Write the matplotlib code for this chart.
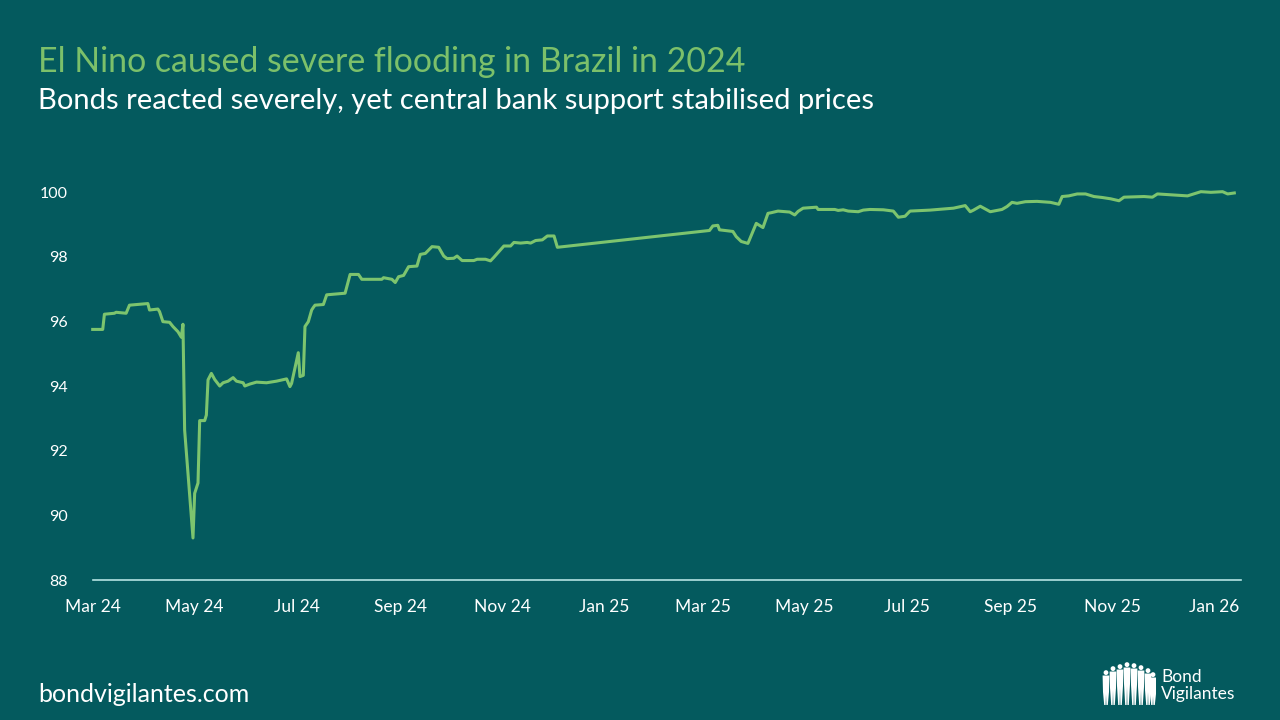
import numpy as np
import pandas as pd
import matplotlib
matplotlib.use("Agg")
import matplotlib.pyplot as plt
import matplotlib.dates as mdates
from matplotlib.patches import Circle, Polygon

# ── data ──
dates = [
    "2024-03-01", "2024-03-07", "2024-03-08", "2024-03-14", "2024-03-15", "2024-03-21",
    "2024-03-23", "2024-04-03", "2024-04-04", "2024-04-09", "2024-04-10", "2024-04-12",
    "2024-04-16", "2024-04-18", "2024-04-21", "2024-04-23", "2024-04-24", "2024-04-25",
    "2024-04-30", "2024-05-01", "2024-05-03", "2024-05-04", "2024-05-07", "2024-05-08",
    "2024-05-09", "2024-05-11", "2024-05-13", "2024-05-16", "2024-05-18", "2024-05-21",
    "2024-05-24", "2024-05-26", "2024-05-30", "2024-05-31", "2024-06-03", "2024-06-07",
    "2024-06-13", "2024-06-19", "2024-06-25", "2024-06-27", "2024-06-28", "2024-07-02",
    "2024-07-03", "2024-07-05", "2024-07-06", "2024-07-08", "2024-07-10", "2024-07-11",
    "2024-07-12", "2024-07-17", "2024-07-19", "2024-07-30", "2024-08-02", "2024-08-07",
    "2024-08-09", "2024-08-21", "2024-08-22", "2024-08-27", "2024-08-29", "2024-08-31",
    "2024-09-03", "2024-09-06", "2024-09-11", "2024-09-13", "2024-09-16", "2024-09-20",
    "2024-09-24", "2024-09-27", "2024-09-29", "2024-10-03", "2024-10-05", "2024-10-08",
    "2024-10-15", "2024-10-17", "2024-10-22", "2024-10-25", "2024-10-27", "2024-10-31",
    "2024-11-02", "2024-11-06", "2024-11-08", "2024-11-12", "2024-11-16", "2024-11-18",
    "2024-11-21", "2024-11-25", "2024-11-28", "2024-12-02", "2024-12-04",
    "2025-03-05", "2025-03-07", "2025-03-10", "2025-03-11", "2025-03-19", "2025-03-21",
    "2025-03-24", "2025-03-28", "2025-04-02", "2025-04-06", "2025-04-09", "2025-04-11",
    "2025-04-15", "2025-04-22", "2025-04-25", "2025-04-27", "2025-04-30", "2025-05-08",
    "2025-05-09", "2025-05-19", "2025-05-21", "2025-05-24", "2025-05-27", "2025-06-02",
    "2025-06-05", "2025-06-09", "2025-06-17", "2025-06-23", "2025-06-26", "2025-06-30",
    "2025-07-03", "2025-07-15", "2025-07-29", "2025-08-05", "2025-08-08", "2025-08-10",
    "2025-08-14", "2025-08-20", "2025-08-27", "2025-08-30", "2025-09-02", "2025-09-05",
    "2025-09-10", "2025-09-17", "2025-09-25", "2025-09-30", "2025-10-02", "2025-10-06",
    "2025-10-11", "2025-10-16", "2025-10-21", "2025-10-26", "2025-10-31", "2025-11-05",
    "2025-11-08", "2025-11-20", "2025-11-25", "2025-11-28", "2025-12-16", "2025-12-24",
    "2025-12-30", "2026-01-06", "2026-01-09", "2026-01-13",
]
prices = [
    95.75, 95.75, 96.22, 96.25, 96.28, 96.25,
    96.50, 96.55, 96.35, 96.38, 96.30, 95.99,
    95.97, 95.84, 95.68, 95.51, 95.91, 92.64,
    89.30, 90.68, 91.00, 92.93, 92.93, 93.10,
    94.19, 94.39, 94.20, 94.00, 94.10, 94.15,
    94.26, 94.15, 94.10, 94.00, 94.06, 94.12,
    94.10, 94.15, 94.22, 93.98, 94.08, 95.03,
    94.29, 94.33, 95.84, 95.99, 96.35, 96.43,
    96.50, 96.52, 96.82, 96.87, 97.45, 97.45,
    97.30, 97.30, 97.35, 97.30, 97.20, 97.38,
    97.42, 97.69, 97.71, 98.07, 98.10, 98.31,
    98.29, 98.02, 97.94, 97.95, 98.02, 97.88,
    97.88, 97.92, 97.92, 97.87, 97.98, 98.21,
    98.33, 98.33, 98.44, 98.42, 98.44, 98.42,
    98.50, 98.52, 98.64, 98.64, 98.29,
    98.81, 98.95, 98.97, 98.83, 98.78, 98.62,
    98.47, 98.41, 99.03, 98.90, 99.34, 99.36,
    99.41, 99.38, 99.29, 99.40, 99.50, 99.53,
    99.46, 99.46, 99.43, 99.45, 99.41, 99.39,
    99.44, 99.46, 99.45, 99.41, 99.22, 99.25,
    99.41, 99.44, 99.50, 99.58, 99.39, 99.44,
    99.56, 99.39, 99.46, 99.55, 99.68, 99.65,
    99.70, 99.71, 99.68, 99.62, 99.86, 99.88,
    99.94, 99.94, 99.86, 99.83, 99.79, 99.73,
    99.84, 99.86, 99.84, 99.94, 99.88, 100.01,
    99.99, 100.01, 99.94, 99.97,
]
x_ticks = pd.date_range("2024-03-01", "2026-01-01", freq="2MS")
y_ticks = [88, 90, 92, 94, 96, 98, 100]

title = "El Nino caused severe flooding in Brazil in 2024"
subtitle = "Bonds reacted severely, yet central bank support stabilised prices"
footer = "bondvigilantes.com"

BG = "#045a5e"
GREEN = "#7dc46e"
FONT = ["Lato", "DejaVu Sans"]
plt.rcParams["font.family"] = FONT

fig = plt.figure(figsize=(12.8, 7.2), dpi=100, facecolor=BG)
ax = fig.add_axes([92.7/1280, 1-580/720, (1241-92.7)/1280, (580-192)/720])
ax.set_facecolor(BG)

ax.plot(pd.to_datetime(dates), prices, color=GREEN, lw=2.2, clip_on=False, solid_joinstyle="round")

ax.set_ylim(88, 100)
ax.set_yticks(y_ticks)
ax.set_xlim(pd.Timestamp("2024-03-01"), pd.Timestamp("2026-01-17"))
ax.set_xticks(x_ticks)
ax.xaxis.set_major_formatter(mdates.DateFormatter("%b %y"))

for s in ["top", "right", "left"]:
    ax.spines[s].set_visible(False)
ax.spines["bottom"].set_color("#b5e3e3")
ax.spines["bottom"].set_linewidth(1.2)
ax.tick_params(axis="both", length=0, colors="white")
ax.tick_params(axis="y", pad=18, labelsize=11.5)
ax.tick_params(axis="x", pad=14, labelsize=12.5)

fig.text(38/1280, 1-62/720, title, color="#7cc06a", fontsize=24.4, va="center", ha="left")
fig.text(38/1280, 1-101/720, subtitle, color="white", fontsize=21, va="center", ha="left")
fig.text(38/1280, 1-694/720, footer, color="white", fontsize=18, va="center", ha="left")

# logo: silhouettes + wordmark
lg = fig.add_axes([1100/1280, 12/720, 56/1280, 50/720])
lg.set_xlim(0, 56); lg.set_ylim(0, 50); lg.axis("off")
people = [(6, 38), (13, 42), (20, 44), (27, 46), (34, 45), (41, 43), (48, 40), (53, 36)]
for cx, top in people:
    lg.add_patch(Circle((cx, top - 2.6), 2.4, color="white", lw=0))
    lg.add_patch(Polygon([(cx-3.4, top-5.5), (cx+3.4, top-5.5), (cx+3.0, top-22),
                          (cx+1.8, 3), (cx+0.4, 3), (cx, top-24), (cx-0.4, 3),
                          (cx-1.8, 3), (cx-3.0, top-22)], closed=True, color="white", lw=0))
fig.text(1161/1280, 1-677/720, "Bond", color="white", fontsize=12.5, va="center", ha="left")
fig.text(1161/1280, 1-694/720, "Vigilantes", color="white", fontsize=12.5, va="center", ha="left")

fig.savefig("out.png", dpi=100, facecolor=BG)
